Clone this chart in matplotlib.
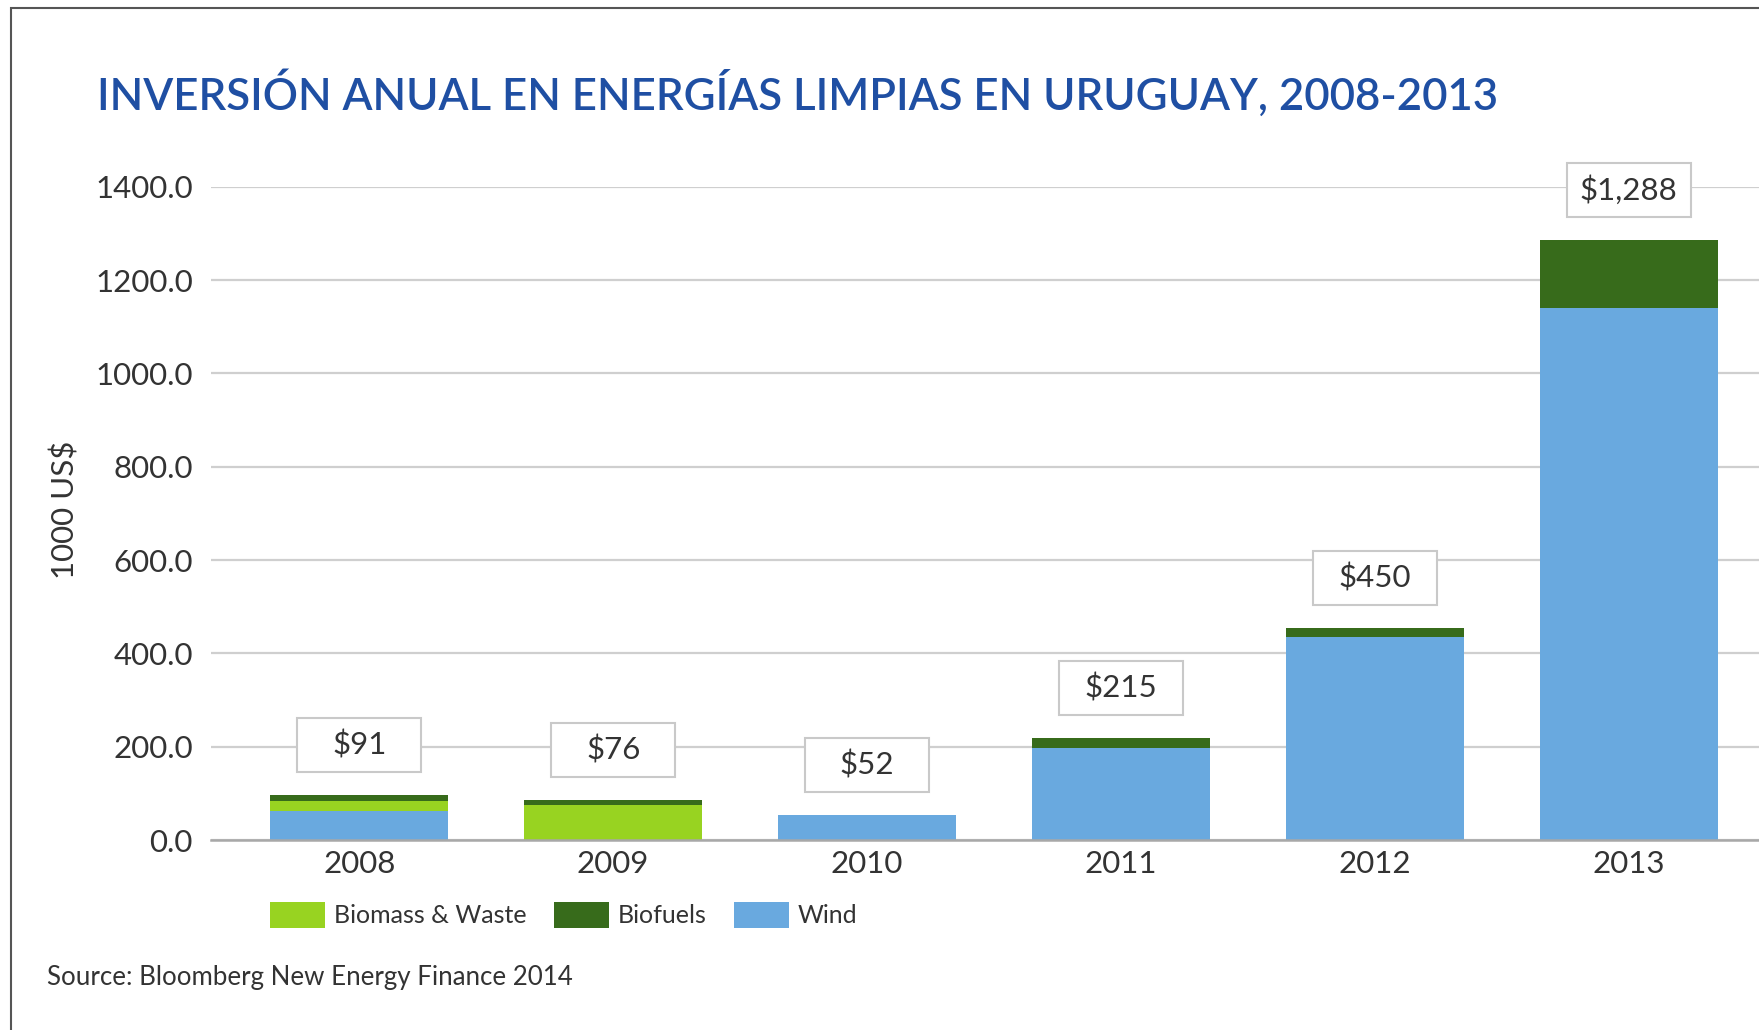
import matplotlib
matplotlib.use("Agg")
import matplotlib.pyplot as plt
from matplotlib.patches import Rectangle, Patch
import numpy as np

# data
years = ["2008", "2009", "2010", "2011", "2012", "2013"]
wind = [63, 0, 53, 198, 435, 1140]
biomass = [21, 75, 0, 0, 0, 0]
biofuels = [12, 11, 0, 21, 19, 146]
totals_lbl = ["$91", "$76", "$52", "$215", "$450", "$1,288"]
yticks = [0, 200, 400, 600, 800, 1000, 1200, 1400]

c_wind = "#69a9df"
c_biomass = "#98d321"
c_biofuels = "#376b1b"
txt = "#333333"
body_font = ["Lato", "DejaVu Sans"]

plt.rcParams["font.family"] = body_font

W, H = 1759, 1030
fig = plt.figure(figsize=(W / 100, H / 100), dpi=100, facecolor="white")
ax = fig.add_axes([211 / W, 1 - 840 / H, 1 - 211 / W, (840 - 186.7) / H])

x = np.arange(len(years))
bw = 0.70
wind_a = np.array(wind)
bio_a = np.array(biomass)
fuel_a = np.array(biofuels)
ax.bar(x, wind_a, bw, color=c_wind, zorder=3)
ax.bar(x, bio_a, bw, bottom=wind_a, color=c_biomass, zorder=3)
ax.bar(x, fuel_a, bw, bottom=wind_a + bio_a, color=c_biofuels, zorder=3)

ax.set_xlim(-0.584, 5.513)
ax.set_ylim(0, 1400)
ax.set_yticks(yticks)
ax.set_yticklabels([f"{v:.1f}" for v in yticks])
ax.set_xticks(x)
ax.set_xticklabels(years)
ax.tick_params(axis="y", length=0, pad=13, labelsize=22.5, labelcolor=txt)
ax.tick_params(axis="x", length=0, pad=7, labelsize=22.5, labelcolor=txt)
ax.grid(axis="y", color="#cfcfcf", linewidth=1.6, zorder=0)
ax.set_axisbelow(True)
for s in ["top", "right", "left"]:
    ax.spines[s].set_visible(False)
ax.spines["bottom"].set_color("#a8a8a8")
ax.spines["bottom"].set_linewidth(1.8)
ax.spines["bottom"].set_zorder(4)

ax.set_ylabel("1000 US$", fontsize=22.5, color=txt)
ax.yaxis.set_label_coords(-0.085, 0.505)

# value boxes above the bars, fixed pixel size
fig.canvas.draw()
tops = wind_a + bio_a + fuel_a
for xi, top, lbl in zip(x, tops, totals_lbl):
    px, py = ax.transData.transform((xi, top))
    cy = py + 50
    rect = Rectangle((px - 62, cy - 27), 124, 54, transform=None,
                     facecolor="white", edgecolor="#c9c9c9", linewidth=1.5, zorder=5)
    fig.patches.append(rect)
    fig.text(px / W, cy / H, lbl, ha="center", va="center", fontsize=22.5,
             color=txt, zorder=6)

# title
fig.text(97 / W, 1 - 94 / H, "INVERSIÓN ANUAL EN ENERGÍAS LIMPIAS EN URUGUAY, 2008-2013",
         ha="left", va="center", fontsize=31.5, color="#1f4fa3",
         family=["Lato", "DejaVu Sans"], fontweight="semibold")

# legend
handles = [Patch(facecolor=c_biomass), Patch(facecolor=c_biofuels), Patch(facecolor=c_wind)]
fig.legend(handles, ["Biomass & Waste", "Biofuels", "Wind"], loc="center left",
           bbox_to_anchor=(270 / W, 1 - 915 / H), ncol=3, frameon=False,
           fontsize=18, handlelength=2.2, handleheight=1.2, handletextpad=0.35,
           columnspacing=1.1, labelcolor=txt, borderpad=0, borderaxespad=0)

fig.text(47 / W, 1 - 978 / H, "Source: Bloomberg New Energy Finance 2014",
         ha="left", va="center", fontsize=18.6, color=txt)

# outer frame lines (left and top)
fig.patches.append(Rectangle((11, -20), W + 50, H - 8 + 20, transform=None,
                             facecolor="none", edgecolor="#555555", linewidth=1.5, zorder=10))

fig.savefig("out.png", dpi=100, facecolor="white")
